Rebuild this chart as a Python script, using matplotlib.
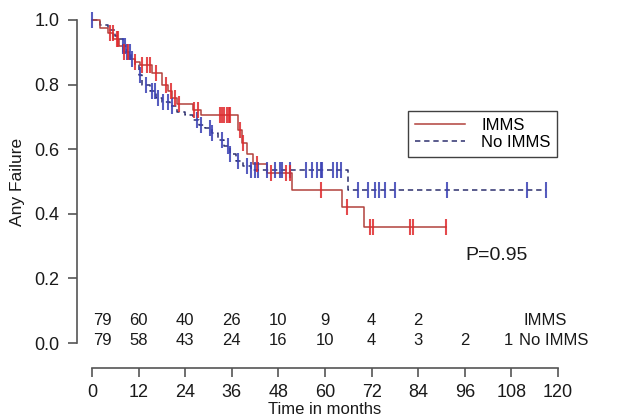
import numpy as np
import matplotlib.pyplot as plt

plt.rcParams['font.family'] = ['Liberation Sans', 'DejaVu Sans']

# Kaplan-Meier style step curves (time in months, failure-free fraction)
imms_t = [0, 2, 4, 5.5, 7, 8, 9.5, 11, 12.4, 15.5, 18, 19.5, 20.6, 22, 26, 28, 37.6, 38.5, 40, 41.5, 45, 51.5,
          64.5, 70]
imms_s = [1.0, 0.975, 0.96, 0.94, 0.92, 0.90, 0.88, 0.87, 0.86, 0.835, 0.80, 0.78, 0.76, 0.74, 0.72, 0.705,
          0.66, 0.62, 0.585, 0.555, 0.525, 0.475, 0.42, 0.36]
imms_end = 91.2
imms_cens = [4.6, 5.4, 6.4, 6.7, 8.3, 9.3, 11, 13, 14.2, 15, 16.4, 19, 20.3, 21.4, 22.3, 26.3, 27.3,
             33, 33.5, 34, 34.8, 35.2, 35.6, 38, 39, 42.5, 46, 50, 51, 59, 65.7,
             71.6, 72.4, 82, 82.7, 91.2]

noimms_t = [0, 2, 4, 6, 7, 8, 9, 10, 11, 12, 13, 15, 16.5, 18, 20, 22, 24, 26, 27.5, 29, 31, 32.5, 34, 35.5,
            37, 39, 41, 66]
noimms_s = [1.0, 0.985, 0.97, 0.95, 0.94, 0.92, 0.90, 0.88, 0.86, 0.83, 0.80, 0.78, 0.76, 0.745, 0.735, 0.715,
            0.705, 0.69, 0.675, 0.665, 0.65, 0.63, 0.61, 0.585, 0.565, 0.548, 0.537, 0.475]
noimms_end = 117
noimms_cens = [0, 8, 8.5, 9, 9.8, 10.3, 12.4, 14, 15.5, 16.2, 17, 18.3, 19.5, 20.6, 27, 28, 30.4, 31,
               33.5, 35, 35.5, 37.6, 40, 41, 42, 42.8, 45, 47, 48.4, 49, 51, 55, 56.6, 58, 59, 59.3,
               62, 63, 64, 68.5, 71, 73, 74, 75.5, 78, 91.5, 112, 117]

# numbers at risk
risk_times = [0, 12, 24, 36, 48, 60, 72, 84, 96, 108]
risk_imms = [79, 60, 40, 26, 10, 9, 4, 2, None, None]
risk_noimms = [79, 58, 43, 24, 16, 10, 4, 3, 2, 1]

RED_LINE = '#b2413c'
RED_TICK = '#e02a2e'
BLUE_LINE = '#2c2f6e'
BLUE_TICK = '#3a40b4'
TXT = '#1a1a1a'


def step_value(t, times, surv):
    idx = np.searchsorted(times, t, side='right') - 1
    return np.array(surv)[np.clip(idx, 0, len(surv) - 1)]


fig = plt.figure(figsize=(6.24, 4.16), dpi=100)
ax = fig.add_axes([92 / 624, (416 - 343) / 416, 466 / 624, 323 / 416])
ax.set_xlim(0, 120)
ax.set_ylim(0, 1)

# curves
ax.step(noimms_t + [noimms_end], noimms_s + [noimms_s[-1]], where='post',
        color=BLUE_LINE, lw=1.1, ls=(0, (3.5, 2.5)), clip_on=False, label='No IMMS')
ax.step(imms_t + [imms_end], imms_s + [imms_s[-1]], where='post',
        color=RED_LINE, lw=1.1, clip_on=False, label='IMMS')

# censoring marks
ax.plot(noimms_cens, step_value(noimms_cens, noimms_t, noimms_s), ls='none', marker='|',
        ms=11, mew=1.5, color=BLUE_TICK, alpha=0.85, clip_on=False)
ax.plot(imms_cens, step_value(imms_cens, imms_t, imms_s), ls='none', marker='|',
        ms=11, mew=1.5, color=RED_TICK, alpha=0.85, clip_on=False)

# spines in R style
for side in ['top', 'right']:
    ax.spines[side].set_visible(False)
ax.spines['left'].set_position(('outward', 10.8))
ax.spines['bottom'].set_position(('outward', 18))
ax.spines['left'].set_bounds(0, 1)
ax.spines['bottom'].set_bounds(0, 120)
for side in ['left', 'bottom']:
    ax.spines[side].set_color('#555555')
    ax.spines[side].set_linewidth(1.2)

ax.set_xticks(np.arange(0, 121, 12))
ax.set_yticks(np.arange(0, 1.01, 0.2))
ax.set_yticklabels([f'{v:.1f}' for v in np.arange(0, 1.01, 0.2)])
ax.tick_params(axis='both', colors='#555555', labelcolor=TXT, labelsize=13, length=6.5, width=1.2)
ax.tick_params(axis='x', pad=5)
ax.tick_params(axis='y', pad=6)
ax.set_xlabel('Time in months', fontsize=12, color=TXT, labelpad=1)
ax.set_ylabel('Any Failure', fontsize=12.5, color=TXT, labelpad=7)

# numbers at risk
for t, a, b in zip(risk_times, risk_imms, risk_noimms):
    xt = t + 2.6 if t == 0 else (t - 0.8 if t == 108 else t)
    if a is not None:
        ax.text(xt, 0.071, str(a), ha='center', va='center', fontsize=12, color=TXT)
    if b is not None:
        ax.text(xt, 0.009, str(b), ha='center', va='center', fontsize=12, color=TXT)
ax.text(111, 0.071, 'IMMS', ha='left', va='center', fontsize=12, color=TXT)
ax.text(110, 0.009, 'No IMMS', ha='left', va='center', fontsize=12, color=TXT)

ax.text(104.3, 0.272, 'P=0.95', ha='center', va='center', fontsize=14, color=TXT)

# legend: IMMS first
handles, labels = ax.get_legend_handles_labels()
leg = ax.legend(handles[::-1], labels[::-1], loc='upper left', bbox_to_anchor=(0.678, 0.718),
                fancybox=False, frameon=True, fontsize=12, handlelength=3.0,
                borderpad=0.4, labelspacing=0.15, handletextpad=1.0, borderaxespad=0)
leg.get_frame().set_edgecolor('#111111')
leg.get_frame().set_linewidth(1.0)
leg.set_zorder(10)

fig.savefig('out.png', dpi=100)
